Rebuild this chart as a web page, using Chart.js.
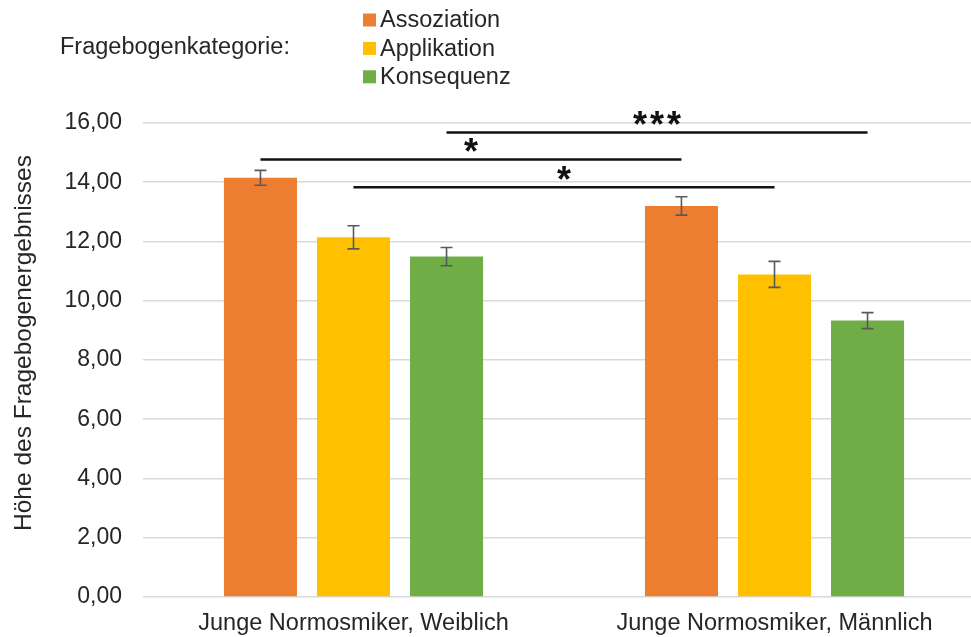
<!DOCTYPE html>
<html lang="de">
<head>
<meta charset="utf-8">
<title>Fragebogenergebnisse</title>
<script src="https://cdn.jsdelivr.net/npm/chart.js@4/dist/chart.umd.min.js"></script>
<style>
  html, body { margin: 0; padding: 0; background: #fff; overflow: hidden; }
  #wrap { width: 990px; height: 637px; }
</style>
</head>
<body>
<div id="wrap"><canvas id="c" width="990" height="637"></canvas></div>
<script>
// Gruppen (x-Achse)
const groups = ['Junge Normosmiker, Weiblich', 'Junge Normosmiker, Männlich'];

// Fragebogenkategorien
const seriesNames = ['Assoziation', 'Applikation', 'Konsequenz'];
const seriesColors = ['#ED7D31', '#FFC000', '#70AD47'];

// Mittelwerte je Kategorie (Weiblich, Männlich)
const assoziation = [14.15, 13.20];
const applikation = [12.14, 10.89];
const konsequenz  = [11.49, 9.33];

// Standardfehler je Kategorie (Weiblich, Männlich)
const errAssoziation = [0.25, 0.31];
const errApplikation = [0.39, 0.44];
const errKonsequenz  = [0.31, 0.27];

// y-Achse
const yTicks = [0, 2, 4, 6, 8, 10, 12, 14, 16];

// Signifikanzklammern: Kategorie-Index, Höhe, Beschriftung
const sigSeries = [2, 0, 1];
const sigLevels = [15.68, 14.77, 13.83];
const sigLabels = ['***', '*', '*'];

const legendTitle = 'Fragebogenkategorie:';
const axisTitle = 'Höhe des Fragebogenergebnisses';

const values = [assoziation, applikation, konsequenz];
const errors = [errAssoziation, errApplikation, errKonsequenz];

const FONT = '"Liberation Sans", Arial, sans-serif';
const TEXT = '#262626';

// Fehlerbalken über den Balken
const errorBars = {
  id: 'errorBars',
  afterDatasetsDraw(chart) {
    const ctx = chart.ctx;
    const y = chart.scales.y;
    ctx.save();
    ctx.strokeStyle = '#595959';
    ctx.lineWidth = 1.6;
    values.forEach((vals, i) => {
      const meta = chart.getDatasetMeta(i);
      meta.data.forEach((bar, j) => {
        const top = y.getPixelForValue(vals[j] + errors[i][j]);
        const bot = y.getPixelForValue(vals[j] - errors[i][j]);
        const x = bar.x, w = 6;
        ctx.beginPath();
        ctx.moveTo(x, top); ctx.lineTo(x, bot);
        ctx.moveTo(x - w, top); ctx.lineTo(x + w, top);
        ctx.moveTo(x - w, bot); ctx.lineTo(x + w, bot);
        ctx.stroke();
      });
    });
    ctx.restore();
  }
};

// Signifikanzlinien zwischen gleichen Kategorien beider Gruppen
const significance = {
  id: 'significance',
  afterDatasetsDraw(chart) {
    const ctx = chart.ctx;
    const y = chart.scales.y;
    ctx.save();
    sigSeries.forEach((s, k) => {
      const meta = chart.getDatasetMeta(s);
      const x1 = meta.data[0].x, x2 = meta.data[1].x;
      const py = y.getPixelForValue(sigLevels[k]);
      ctx.strokeStyle = '#111';
      ctx.lineWidth = 2.4;
      ctx.beginPath();
      ctx.moveTo(x1, py); ctx.lineTo(x2, py);
      ctx.stroke();
      // Sterne einzeln mit festem Abstand setzen
      ctx.fillStyle = '#111';
      ctx.font = 'bold 36px ' + FONT;
      ctx.textAlign = 'center';
      ctx.textBaseline = 'alphabetic';
      const stars = sigLabels[k].split('');
      const pitch = 17;
      const cx = (x1 + x2) / 2;
      stars.forEach((ch, n) => {
        const sx = cx + (n - (stars.length - 1) / 2) * pitch;
        ctx.fillText(ch, sx, py + 5);
      });
    });
    ctx.restore();
  }
};

// Legende und Achsentitel
const annotations = {
  id: 'annotations',
  afterDraw(chart) {
    const ctx = chart.ctx;
    ctx.save();
    ctx.fillStyle = TEXT;
    ctx.font = '23.5px ' + FONT;
    ctx.textBaseline = 'middle';
    ctx.textAlign = 'left';
    ctx.fillText(legendTitle, 60, 48);
    seriesNames.forEach((name, i) => {
      const cy = 20 + i * 28.4;
      ctx.fillStyle = seriesColors[i];
      ctx.fillRect(363, cy - 6.5, 13, 13);
      ctx.fillStyle = TEXT;
      ctx.fillText(name, 380, cy + 1);
    });
    ctx.translate(24, 343);
    ctx.rotate(-Math.PI / 2);
    ctx.textAlign = 'center';
    ctx.font = '24.5px ' + FONT;
    ctx.fillText(axisTitle, 0, 0);
    ctx.restore();
  }
};

new Chart(document.getElementById('c'), {
  type: 'bar',
  data: {
    labels: groups,
    datasets: seriesNames.map((name, i) => ({
      label: name,
      data: values[i],
      backgroundColor: seriesColors[i],
      borderWidth: 0,
      categoryPercentage: 0.663,
      barPercentage: 0.785
    }))
  },
  options: {
    responsive: false,
    animation: false,
    layout: { padding: { top: 123, right: 5, left: 0, bottom: 0 } },
    plugins: {
      legend: { display: false },
      tooltip: { enabled: false }
    },
    scales: {
      x: {
        grid: { display: false, drawTicks: false },
        border: { display: false },
        ticks: { color: TEXT, font: { family: FONT, size: 23.5 }, padding: 12, maxRotation: 0 },
        afterFit(scale) { scale.height = 40; }
      },
      y: {
        min: 0,
        max: 16,
        afterBuildTicks(scale) { scale.ticks = yTicks.map(v => ({ value: v })); },
        grid: { color: '#d9d9d9', lineWidth: 1.6, drawTicks: false },
        border: { display: false },
        ticks: {
          color: TEXT,
          font: { family: FONT, size: 23 },
          padding: 21,
          callback: v => v.toFixed(2).replace('.', ',')
        },
        afterFit(scale) { scale.width = 143; }
      }
    }
  },
  plugins: [errorBars, significance, annotations]
});
</script>
</body>
</html>
